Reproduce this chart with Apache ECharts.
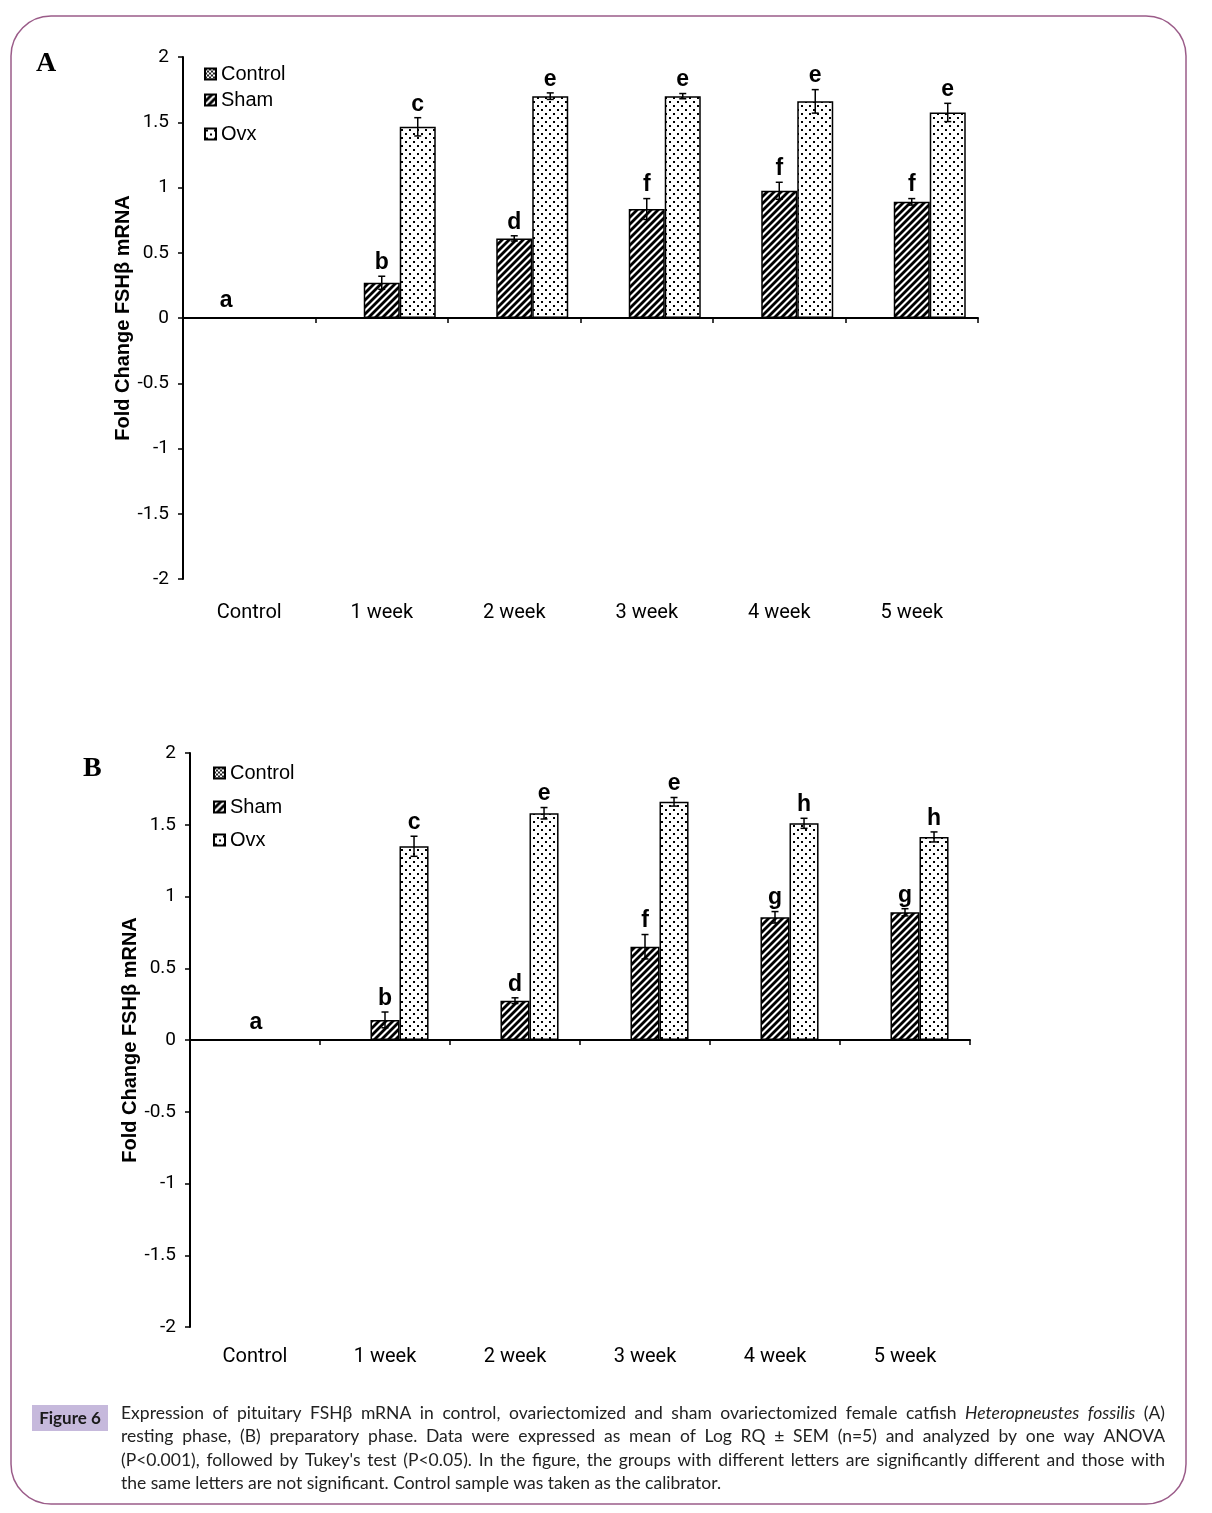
<!DOCTYPE html>
<html><head><meta charset="utf-8">
<script src="https://cdn.jsdelivr.net/npm/echarts/dist/echarts.min.js"></script>
<style>html,body{margin:0;padding:0;background:#fff;}#c{width:1212px;height:1513px;}</style>
</head><body><div id="c"></div>
<script>
// ---------- data ----------
const categories = ['Control', '1 week', '2 week', '3 week', '4 week', '5 week'];
const seriesNames = ['Control', 'Sham', 'Ovx'];

// Panel A (resting phase)
const controlA = [0, '-', '-', '-', '-', '-'];
const shamA = ['-', 0.27, 0.61, 0.835, 0.975, 0.89];
const shamErrA = [0, 0.05, 0.02, 0.08, 0.065, 0.025];
const ovxA = ['-', 1.465, 1.70, 1.70, 1.66, 1.575];
const ovxErrA = [0, 0.07, 0.025, 0.02, 0.09, 0.07];
const controlLettersA = ['a', '', '', '', '', ''];
const shamLettersA = ['', 'b', 'd', 'f', 'f', 'f'];
const ovxLettersA = ['', 'c', 'e', 'e', 'e', 'e'];

// Panel B (preparatory phase)
const controlB = [0, '-', '-', '-', '-', '-'];
const shamB = ['-', 0.14, 0.274, 0.65, 0.855, 0.89];
const shamErrB = [0, 0.055, 0.02, 0.085, 0.04, 0.025];
const ovxB = ['-', 1.35, 1.58, 1.66, 1.51, 1.415];
const ovxErrB = [0, 0.07, 0.04, 0.03, 0.035, 0.035];
const controlLettersB = ['a', '', '', '', '', ''];
const shamLettersB = ['', 'b', 'd', 'f', 'g', 'g'];
const ovxLettersB = ['', 'c', 'e', 'e', 'h', 'h'];

const yMin = -2, yMax = 2, yInterval = 0.5;
const yAxisTitle = 'Fold Change FSHβ mRNA';

const captionLines = [
  [['Expression'],['of'],['pituitary'],['FSHβ'],['mRNA'],['in'],['control,'],['ovariectomized'],['and'],['sham'],['ovariectomized'],['female'],['catfish'],['Heteropneustes',1],['fossilis',1],['(A)']],
  'resting phase, (B) preparatory phase. Data were expressed as mean of Log RQ ± SEM (n=5) and analyzed by one way ANOVA'.split(' ').map(w=>[w]),
  "(P<0.001), followed by Tukey's test (P<0.05). In the figure, the groups with different letters are significantly different and those with".split(' ').map(w=>[w]),
  'the same letters are not significant. Control sample was taken as the calibrator.'
];

// ---------- patterns ----------
function pattern(kind) {
  const c = document.createElement('canvas');
  const ctx = c.getContext('2d');
  if (kind === 'stripe') {
    const s = 7; c.width = s; c.height = s;
    ctx.fillStyle = '#fff'; ctx.fillRect(0, 0, s, s);
    ctx.strokeStyle = '#000'; ctx.lineWidth = 2.8;
    [[-s, s, s, -s], [0, 2 * s, 2 * s, 0], [0, s, s, 0]].forEach(l => {
      ctx.beginPath(); ctx.moveTo(l[0], l[1]); ctx.lineTo(l[2], l[3]); ctx.stroke();
    });
  } else if (kind === 'dots') {
    const s = 8; c.width = s; c.height = s;
    ctx.fillStyle = '#fff'; ctx.fillRect(0, 0, s, s);
    ctx.fillStyle = '#000';
    ctx.fillRect(1, 1, 2, 2); ctx.fillRect(5, 5, 2, 2);
  } else {
    const s = 4; c.width = s; c.height = s;
    ctx.fillStyle = '#fff'; ctx.fillRect(0, 0, s, s);
    ctx.fillStyle = '#222';
    ctx.fillRect(0, 0, 2, 2); ctx.fillRect(2, 2, 2, 2);
  }
  return { image: c, repeat: 'repeat' };
}
const fills = { Control: pattern('check'), Sham: pattern('stripe'), Ovx: pattern('dots') };

const NARROW = 'Roboto, "DejaVu Sans Condensed", sans-serif';
const SANS = '"Liberation Sans", Arial, sans-serif';

// ---------- panels ----------
const panels = [
  { grid: { left: 183, top: 57, width: 795, height: 522 }, gap: 0.185, labelMargin: 24, nameGap: 50,
    legendLeft: 204, legendTops: [63, 89, 123], ctrlDx: 13,
    vals: [controlA, shamA, ovxA], errs: [[0,0,0,0,0,0], shamErrA, ovxErrA],
    letters: [controlLettersA, shamLettersA, ovxLettersA] },
  { grid: { left: 190, top: 753, width: 780, height: 574 }, gap: 0.33, labelMargin: 20, nameGap: 50,
    legendLeft: 213, legendTops: [762, 796, 829], ctrlDx: 30,
    vals: [controlB, shamB, ovxB], errs: [[0,0,0,0,0,0], shamErrB, ovxErrB],
    letters: [controlLettersB, shamLettersB, ovxLettersB] }
];

const grids = [], xAxes = [], yAxes = [], series = [], legends = [];

function marks(gi, values, errs, letters, slot, gapFrac, dx) {
  const data = [];
  values.forEach((v, i) => { if (typeof v === 'number') data.push([i, v, errs[i] || 0]); });
  return {
    type: 'custom', xAxisIndex: gi * 2, yAxisIndex: gi, z: 5, silent: true, data,
    renderItem(params, api) {
      const i = api.value(0), v = api.value(1), e = api.value(2);
      const bw = api.size([1, 0])[0] * (1 - gapFrac) / 3;
      const cx = api.coord([i, 0])[0] + (slot - 1) * bw;
      const yT = api.coord([i, v + e])[1], yB = api.coord([i, v - e])[1];
      const st = { stroke: '#000', lineWidth: 1.5 };
      const ch = [];
      if (e > 0) {
        ch.push({ type: 'line', shape: { x1: cx, y1: yT, x2: cx, y2: yB }, style: st });
        ch.push({ type: 'line', shape: { x1: cx - 3.5, y1: yT, x2: cx + 3.5, y2: yT }, style: st });
        ch.push({ type: 'line', shape: { x1: cx - 3.5, y1: yB, x2: cx + 3.5, y2: yB }, style: st });
      }
      if (letters[i]) {
        ch.push({ type: 'text', x: cx + dx, y: yT - (e > 0 ? 2 : 6),
          style: { text: letters[i], align: 'center', verticalAlign: 'bottom',
                   font: 'bold 23px ' + SANS, fill: '#000' } });
      }
      return { type: 'group', children: ch };
    }
  };
}

panels.forEach((p, gi) => {
  grids.push(Object.assign({ containLabel: false }, p.grid));
  xAxes.push({ type: 'category', gridIndex: gi, data: categories,
    axisLine: { onZero: true, lineStyle: { color: '#000', width: 2 } },
    axisTick: { show: true, length: 5, interval: 0, lineStyle: { color: '#000', width: 1.5 } },
    axisLabel: { show: false }, splitLine: { show: false } });
  xAxes.push({ type: 'category', gridIndex: gi, data: categories, position: 'bottom',
    axisLine: { show: false, onZero: false }, axisTick: { show: false },
    axisLabel: { show: true, interval: 0, margin: p.labelMargin, color: '#000',
      fontFamily: NARROW, fontSize: 20 } });
  yAxes.push({ type: 'value', gridIndex: gi, min: yMin, max: yMax, interval: yInterval,
    name: yAxisTitle, nameLocation: 'middle', nameGap: p.nameGap, nameMoveOverlap: false,
    nameTextStyle: { fontFamily: SANS, fontWeight: 'bold', fontSize: 20, color: '#000' },
    axisLine: { show: true, onZero: false, lineStyle: { color: '#000', width: 2 } },
    axisTick: { show: true, length: 5, lineStyle: { color: '#000', width: 1.5 } },
    axisLabel: { color: '#000', fontFamily: NARROW, fontSize: 19, margin: 14 },
    splitLine: { show: false } });
  seriesNames.forEach((name, k) => {
    series.push({ type: 'bar', name, xAxisIndex: gi * 2, yAxisIndex: gi, data: p.vals[k],
      barGap: '0%', barCategoryGap: (p.gap * 100) + '%', silent: true,
      itemStyle: { color: fills[name], borderColor: '#000', borderWidth: 1.5 } });
  });
  seriesNames.forEach((name, k) => {
    series.push(marks(gi, p.vals[k], p.errs[k], p.letters[k], k, p.gap, k === 0 ? p.ctrlDx : 0));
  });
  seriesNames.forEach((name, k) => {
    legends.push({ data: [name], left: p.legendLeft, top: p.legendTops[k], orient: 'vertical',
      icon: 'rect', itemWidth: 11, itemHeight: 11, padding: 0, selectedMode: false,
      textStyle: { fontFamily: SANS, fontSize: 20, color: '#000', lineHeight: 22 } });
  });
});

// ---------- caption ----------
const mctx = document.createElement('canvas').getContext('2d');
const CAP_FONT = 'Lato, "Open Sans", sans-serif';
const CAP_SIZE = 17.5;
function fontStr(it, bold) { return (it ? 'italic ' : '') + (bold ? 'bold ' : '') + CAP_SIZE + 'px ' + CAP_FONT; }
const graphics = [
  { type: 'rect', z: 0, shape: { x: 11, y: 16, width: 1175, height: 1488, r: 40 },
    style: { fill: 'none', stroke: '#9b5c89', lineWidth: 1.5 } },
  { type: 'text', left: 36, top: 50, style: { text: 'A', font: 'bold 28px "Liberation Serif", "Times New Roman", serif', fill: '#000' } },
  { type: 'text', left: 83, top: 755, style: { text: 'B', font: 'bold 28px "Liberation Serif", "Times New Roman", serif', fill: '#000' } },
  { type: 'rect', shape: { x: 32, y: 1405, width: 76, height: 26 }, style: { fill: '#c6b9dc' } },
  { type: 'text', x: 70, y: 1419, style: { text: 'Figure 6', align: 'center', verticalAlign: 'middle',
    font: 'bold 17px ' + CAP_FONT, fill: '#1a1a1a' } }
];
const capLeft = 121, capRight = 1165, capYs = [1413, 1436, 1460, 1483];
captionLines.forEach((line, li) => {
  if (typeof line === 'string') {
    graphics.push({ type: 'text', x: capLeft, y: capYs[li], style: { text: line, align: 'left',
      verticalAlign: 'middle', font: fontStr(false), fill: '#222' } });
    return;
  }
  const widths = line.map(w => { mctx.font = fontStr(!!w[1]); return mctx.measureText(w[0]).width; });
  const total = widths.reduce((a, b) => a + b, 0);
  const gap = (capRight - capLeft - total) / (line.length - 1);
  let x = capLeft;
  line.forEach((w, wi) => {
    graphics.push({ type: 'text', x, y: capYs[li], style: { text: w[0], align: 'left',
      verticalAlign: 'middle', font: fontStr(!!w[1]), fill: '#222' } });
    x += widths[wi] + gap;
  });
});

const chart = echarts.init(document.getElementById('c'), null, { renderer: 'canvas' });
chart.setOption({
  backgroundColor: '#fff', animation: false,
  grid: grids, xAxis: xAxes, yAxis: yAxes, series, legend: legends, graphic: graphics
});
</script></body></html>
